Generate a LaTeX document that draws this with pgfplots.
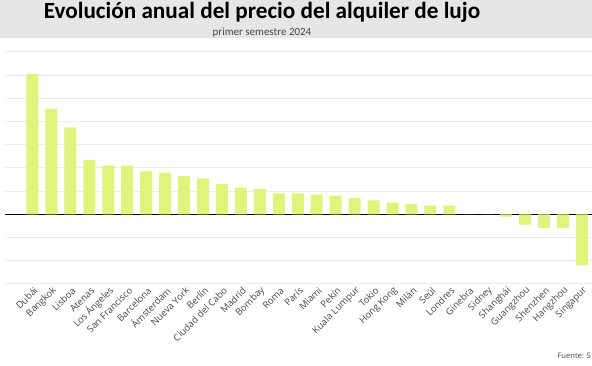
\documentclass[border=0pt]{standalone}
\usepackage{pgfplots}
\pgfplotsset{compat=1.18}
\usepackage{fontspec}
\setmainfont{Open Sans}
\newfontfamily\titlefont{Carlito}
\definecolor{barcol}{RGB}{224,243,122}
\definecolor{bandcol}{RGB}{230,230,230}
\definecolor{gridcol}{RGB}{236,236,236}
\definecolor{labcol}{RGB}{70,70,70}
\begin{document}
\begin{tikzpicture}[x=1pt,y=1pt]
\path[use as bounding box] (0,0) rectangle (592,366);
\fill[bandcol] (0,327.7) rectangle (592,366);
\node[anchor=base, inner sep=0pt] at (262,347.5) {\titlefont\bfseries\fontsize{23.2}{26}\selectfont Evolución anual del precio del alquiler de lujo};
\node[anchor=base, inner sep=0pt, text=labcol] at (262,330.5) {\titlefont\fontsize{11}{13}\selectfont primer semestre 2024};
\begin{axis}[
  at={(5pt,82.1pt)}, anchor=south west,
  scale only axis, width=587pt, height=243.6pt,
  xmin=-1.451, xmax=29.528, ymin=-6, ymax=15,
  ybar, bar width=12pt,
  axis line style={draw=none},
  major tick length=0pt,
  ytick={-6,-4,-2,2,4,6,8,10,12,14},
  yticklabels={},
  ymajorgrids, grid style={gridcol, line width=0.8pt},
  extra y ticks={0}, extra y tick labels={},
  extra y tick style={grid style={black, line width=0.9pt}},
  xtick=data,
  xticklabels={Dubái,Bangkok,Lisboa,Atenas,Los Ángeles,San Francisco,Barcelona,Ámsterdam,Nueva York,Berlín,Ciudad del Cabo,Madrid,Bombay,Roma,París,Miami,Pekín,Kuala Lumpur,Tokio,Hong Kong,Milán,Seúl,Londres,Ginebra,Sidney,Shanghái,Guangzhou,Shenzhen,Hangzhou,Singapur},
  xticklabel style={rotate=45, anchor=east, font=\fontsize{9.4}{11}\selectfont, text=labcol, inner sep=1pt},
  every x tick label/.append style={yshift=-6pt},
  clip=false,
]
\addplot[fill=barcol, draw=none] coordinates {
(0,12.1) (1,9.1) (2,7.5) (3,4.7) (4,4.2) (5,4.2) (6,3.7) (7,3.6) (8,3.3) (9,3.1)
(10,2.6) (11,2.3) (12,2.2) (13,1.8) (14,1.8) (15,1.7) (16,1.6) (17,1.4) (18,1.2) (19,1.0)
(20,0.9) (21,0.75) (22,0.75) (23,0) (24,0) (25,-0.2) (26,-0.9) (27,-1.2) (28,-1.2) (29,-4.4)
};
\end{axis}
\node[anchor=base east, inner sep=0pt, text=labcol] at (591,7) {\fontsize{7.6}{9}\selectfont Fuente: S};
\end{tikzpicture}
\end{document}
